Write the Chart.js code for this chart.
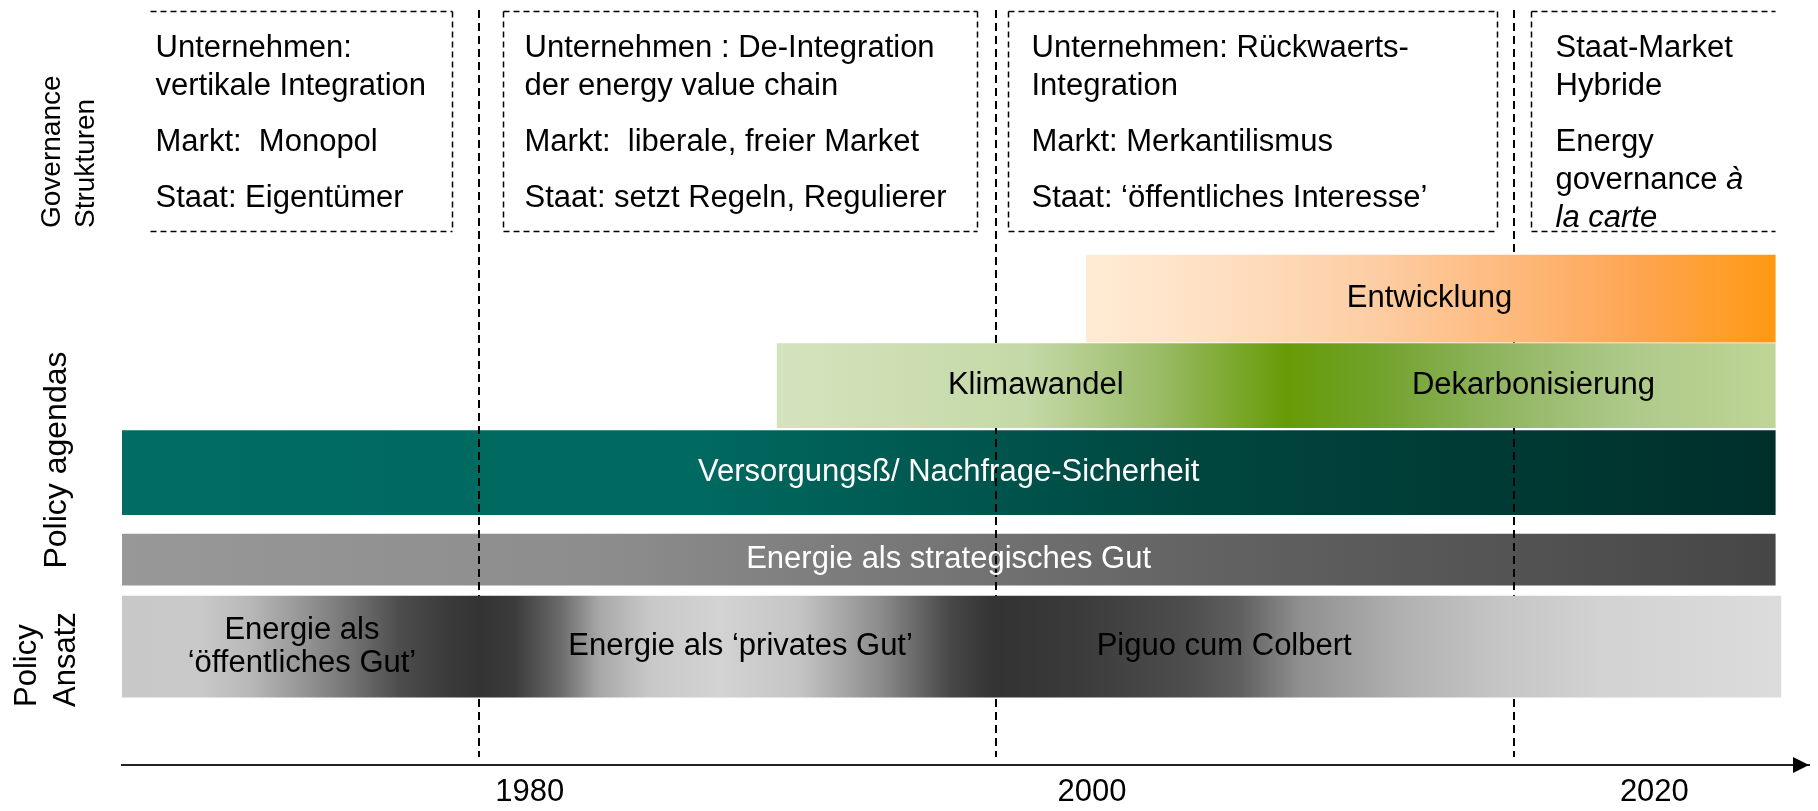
<!DOCTYPE html>
<html lang="de">
<head>
<meta charset="utf-8">
<title>Energy Governance Zeitstrahl</title>
<script src="https://cdn.jsdelivr.net/npm/chart.js@4.4.1/dist/chart.umd.min.js"></script>
<style>
  html, body { margin: 0; padding: 0; background: #ffffff; }
  #wrap { width: 1818px; height: 811px; }
</style>
</head>
<body>
<div id="wrap"><canvas id="zeitstrahl"></canvas></div>
<script>
// ---- Daten ----
var jahrTicks = [1980, 2000, 2020];
var jahrMin = 1965.5;
var jahrMax = 2025.5;
var epochenGrenzen = [1978.2, 1996.6, 2015.0];

var zeilen = ['Entwicklung', 'Klimawandel / Dekarbonisierung', 'Versorgungssicherheit', 'strategisches Gut', 'Policy Ansatz'];
var balkenVon = [1999.8, 1988.8, 1965.5, 1965.5, 1965.5];
var balkenBis = [2024.3, 2024.3, 2024.3, 2024.3, 2024.5];
var balkenTexte = [
  ['Entwicklung'],
  ['Klimawandel', 'Dekarbonisierung'],
  ['Versorgungsß/ Nachfrage-Sicherheit'],
  ['Energie als strategisches Gut'],
  ['Energie als\n‘öffentliches Gut’', 'Energie als ‘privates Gut’', 'Piguo cum Colbert']
];
var balkenTextJahre = [[2012.0], [1998.0, 2015.7], [1994.9], [1994.9], [1971.9, 1987.5, 2004.7]];

var kastenVon = [1966.5, 1979.05, 1997.0, 2015.6];
var kastenBis = [1977.25, 1995.9, 2014.4, 2024.3];
var kastenTexte = [
  [['Unternehmen:', 'vertikale Integration'], ['Markt:  Monopol'], ['Staat: Eigentümer']],
  [['Unternehmen : De-Integration', 'der energy value chain'], ['Markt:  liberale, freier Market'], ['Staat: setzt Regeln, Regulierer']],
  [['Unternehmen: Rückwaerts-', 'Integration'], ['Markt: Merkantilismus'], ['Staat: ‘öffentliches Interesse’']],
  [['Staat-Market', 'Hybride'], ['Energy', 'governance _à_', '_la carte_']]
];

var seitenTitel = [['Governance', 'Strukturen'], ['Policy agendas'], ['Policy', 'Ansatz']];

// ---- Stil ----
var SCHRIFT = '"Liberation Sans", Arial, sans-serif';
Chart.defaults.font.family = SCHRIFT;

var zeilenStil = [
  { dicke: 87, order: 0, oben: true, text: '#000',
    verlauf: [[0, '#FFEBD4'], [0.17, '#FEE1C5'], [0.4, '#FDCFA6'], [0.62, '#FDB97C'], [0.8, '#FEA552'], [1, '#FF9912']] },
  { dicke: 84, order: 1, oben: true, text: '#000',
    verlauf: [[0, '#D4E3BD'], [0.25, '#C4D9A7'], [0.38, '#9BBC68'], [0.51, '#669B06'], [0.6, '#70A22B'],
              [0.72, '#8FB45F'], [0.85, '#ADC989'], [1, '#BED596']] },
  { dicke: 84, order: 4, oben: false, text: '#fff',
    verlauf: [[0, '#006C62'], [0.35, '#006960'], [0.65, '#00463F'], [1, '#002F2A']] },
  { dicke: 51, order: 3, oben: false, text: '#fff',
    verlauf: [[0, '#989898'], [0.3, '#8C8C8C'], [0.65, '#636363'], [1, '#464646']] },
  { dicke: 101, order: 2, oben: true, text: '#000',
    verlauf: [[0, '#C8C8C8'], [0.047, '#C9C9C9'], [0.077, '#B8B8B8'], [0.107, '#989898'], [0.137, '#747474'],
              [0.168, '#4C4C4C'], [0.198, '#3A3A3A'], [0.216, '#333333'], [0.237, '#3C3C3C'], [0.264, '#6A6A6A'],
              [0.288, '#A8A8A8'], [0.318, '#C8C8C8'], [0.36, '#D3D3D3'], [0.409, '#C4C4C4'], [0.457, '#8C8C8C'],
              [0.499, '#484848'], [0.526, '#333333'], [0.574, '#3A3A3A'], [0.644, '#4E4E4E'], [0.674, '#606060'],
              [0.71, '#8F8F8F'], [0.77, '#B0B0B0'], [0.83, '#C5C5C5'], [0.891, '#D2D2D2'], [1, '#DCDCDC']] }
];
var kastenEinzug = [5, 21, 23, 24];

function verlauf(ctx, stops) {
  var chart = ctx.chart;
  if (!chart.chartArea || ctx.type !== 'data') return stops[0][1];
  var xs = chart.scales.x;
  var g = chart.ctx.createLinearGradient(xs.getPixelForValue(ctx.raw.x[0]), 0, xs.getPixelForValue(ctx.raw.x[1]), 0);
  stops.forEach(function(s) { g.addColorStop(s[0], s[1]); });
  return g;
}

function zeichneEpochen(chart) {
  var ctx = chart.ctx, a = chart.chartArea, xs = chart.scales.x;
  ctx.save();
  ctx.strokeStyle = '#000';
  ctx.lineWidth = 2;
  ctx.setLineDash([8, 5]);
  epochenGrenzen.forEach(function(j) {
    var x = Math.round(xs.getPixelForValue(j));
    ctx.beginPath();
    ctx.moveTo(x, a.top + 1);
    ctx.lineTo(x, a.bottom - 8);
    ctx.stroke();
  });
  ctx.restore();
}

// Text mit _kursiv_ Abschnitten
function textMitKursiv(ctx, str, x, y, size) {
  str.split('_').forEach(function(teil, k) {
    ctx.font = (k % 2 ? 'italic ' : '') + size + 'px ' + SCHRIFT;
    ctx.fillText(teil, x, y);
    x += ctx.measureText(teil).width;
  });
}

function zeichneKaesten(chart) {
  var ctx = chart.ctx, a = chart.chartArea, xs = chart.scales.x;
  var top = a.top + 2.5, bottom = top + 220;
  ctx.save();
  ctx.strokeStyle = '#000';
  ctx.lineWidth = 1.5;
  ctx.setLineDash([6, 4]);
  kastenVon.forEach(function(von, i) {
    var x0 = Math.round(xs.getPixelForValue(von)) + 0.5;
    var x1 = Math.round(xs.getPixelForValue(kastenBis[i])) + 0.5;
    ctx.beginPath();
    ctx.moveTo(x0, top); ctx.lineTo(x1, top);
    ctx.moveTo(x0, bottom); ctx.lineTo(x1, bottom);
    if (i > 0) { ctx.moveTo(x0, top); ctx.lineTo(x0, bottom); }               // erster Kasten ohne linken Rand
    if (i < kastenVon.length - 1) { ctx.moveTo(x1, top); ctx.lineTo(x1, bottom); } // letzter ohne rechten Rand
    ctx.stroke();

    ctx.fillStyle = '#000';
    ctx.textAlign = 'left';
    ctx.textBaseline = 'alphabetic';
    var y = top + 45;
    kastenTexte[i].forEach(function(absatz) {
      absatz.forEach(function(zeile) {
        textMitKursiv(ctx, zeile, x0 + kastenEinzug[i], y, 31);
        y += 38;
      });
      y += 18;
    });
  });
  ctx.restore();
}

function zeichneBalkenTexte(chart) {
  var ctx = chart.ctx, xs = chart.scales.x;
  ctx.save();
  ctx.font = '31px ' + SCHRIFT;
  ctx.textAlign = 'center';
  ctx.textBaseline = 'middle';
  zeilen.forEach(function(z, i) {
    var yMitte = chart.getDatasetMeta(i).data[0].y;
    ctx.fillStyle = zeilenStil[i].text;
    balkenTexte[i].forEach(function(t, j) {
      var x = xs.getPixelForValue(balkenTextJahre[i][j]);
      var teile = t.split('\n');
      teile.forEach(function(teil, k) {
        ctx.fillText(teil, x, yMitte + (k - (teile.length - 1) / 2) * 33);
      });
    });
  });
  ctx.restore();
}

function gedrehterText(ctx, str, x, y, size, align) {
  ctx.save();
  ctx.translate(x, y);
  ctx.rotate(-Math.PI / 2);
  ctx.font = size + 'px ' + SCHRIFT;
  ctx.textAlign = align;
  ctx.textBaseline = 'middle';
  ctx.fillText(str, 0, 0);
  ctx.restore();
}

function zeichneSeitenTitel(chart) {
  var ctx = chart.ctx;
  ctx.save();
  ctx.fillStyle = '#000';
  gedrehterText(ctx, seitenTitel[0][0], 52, 228, 28, 'left');
  gedrehterText(ctx, seitenTitel[0][1], 86, 228, 28, 'left');
  gedrehterText(ctx, seitenTitel[1][0], 57, 460, 32, 'center');
  gedrehterText(ctx, seitenTitel[2][0], 27, 707, 31, 'left');
  gedrehterText(ctx, seitenTitel[2][1], 66, 707, 31, 'left');
  ctx.restore();
}

function zeichnePfeil(chart) {
  var ctx = chart.ctx, a = chart.chartArea;
  ctx.save();
  ctx.fillStyle = '#000';
  ctx.beginPath();
  ctx.moveTo(a.right, a.bottom);
  ctx.lineTo(a.right - 16, a.bottom - 8);
  ctx.lineTo(a.right - 16, a.bottom + 8);
  ctx.closePath();
  ctx.fill();
  ctx.restore();
}

var zeichnung = {
  id: 'zeichnung',
  beforeDatasetsDraw: function(chart) { chart.$linienFertig = false; },
  beforeDatasetDraw: function(chart, args) {
    // Epochenlinien liegen über Versorgung/strategisch, aber unter den übrigen Balken
    if (!chart.$linienFertig && zeilenStil[args.index].oben) {
      zeichneEpochen(chart);
      chart.$linienFertig = true;
    }
  },
  afterDatasetsDraw: function(chart) {
    if (!chart.$linienFertig) zeichneEpochen(chart);
    zeichneKaesten(chart);
    zeichneBalkenTexte(chart);
    zeichneSeitenTitel(chart);
  },
  afterDraw: function(chart) { zeichnePfeil(chart); }
};

var datasets = zeilen.map(function(name, i) {
  return {
    label: name,
    data: [{ x: [balkenVon[i], balkenBis[i]], y: i }],
    grouped: false,
    barThickness: zeilenStil[i].dicke,
    order: zeilenStil[i].order,
    borderWidth: 0,
    backgroundColor: function(ctx) { return verlauf(ctx, zeilenStil[i].verlauf); }
  };
});

new Chart(document.getElementById('zeitstrahl'), {
  type: 'bar',
  data: { datasets: datasets },
  options: {
    indexAxis: 'y',
    responsive: true,
    maintainAspectRatio: false,
    animation: false,
    layout: { padding: { left: 122, right: 9, top: 9, bottom: 0 } },
    plugins: { legend: { display: false }, tooltip: { enabled: false } },
    scales: {
      x: {
        type: 'linear',
        min: jahrMin,
        max: jahrMax,
        afterBuildTicks: function(s) { s.ticks = jahrTicks.map(function(v) { return { value: v }; }); },
        afterFit: function(s) { s.height = 46; },
        ticks: { font: { size: 31 }, color: '#000', padding: 9, maxRotation: 0,
                 callback: function(v) { return String(v); } },
        grid: { display: false, drawTicks: false },
        border: { display: true, color: '#222', width: 2 }
      },
      y: {
        type: 'linear',
        reverse: true,
        min: -3.33,
        max: 5.36,
        offset: false,
        display: false
      }
    }
  },
  plugins: [zeichnung]
});
</script>
</body>
</html>
